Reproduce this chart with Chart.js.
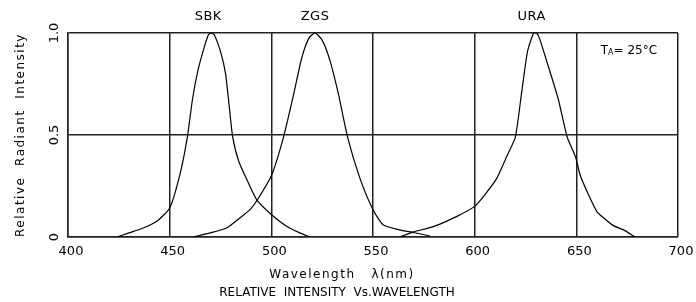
<!DOCTYPE html>
<html>
<head>
<meta charset="utf-8">
<script src="https://cdn.jsdelivr.net/npm/chart.js@4"></script>
<style>
  html, body { margin: 0; padding: 0; background: #fff; }
  #wrap { width: 696px; height: 302px; }
</style>
</head>
<body>
<div id="wrap"><canvas id="myChart" width="696" height="302"></canvas></div>
<script>
// wavelength (nm) / relative intensity
const sbkWl = [424, 430, 437, 444, 450, 455, 458.7, 461.3, 464, 466.7, 469, 470.5, 472, 475, 477.5, 479.5, 481, 484, 488.5, 493, 500, 505, 509, 514, 519];
const sbkVal = [0, 0.02, 0.044, 0.08, 0.142, 0.305, 0.49, 0.68, 0.82, 0.92, 0.99, 1.0, 0.99, 0.91, 0.80, 0.62, 0.49, 0.37, 0.27, 0.18, 0.11, 0.07, 0.044, 0.02, 0];

const zgsWl = [461.5, 470, 478, 485, 489.5, 493, 500, 506, 511, 515, 518.5, 521.5, 525, 529, 533, 537.5, 543.5, 550, 555, 563, 570, 578];
const zgsVal = [0, 0.02, 0.044, 0.097, 0.134, 0.18, 0.30, 0.49, 0.70, 0.88, 0.975, 1.0, 0.965, 0.86, 0.70, 0.49, 0.29, 0.134, 0.06, 0.035, 0.022, 0.005];

const uraWl = [563, 570, 580, 591, 600, 606, 611, 616, 620, 623, 626, 629, 630.5, 632, 635.5, 641, 645.5, 649.5, 652, 656, 660, 663.5, 668, 673, 679];
const uraVal = [0, 0.025, 0.052, 0.10, 0.15, 0.22, 0.29, 0.40, 0.49, 0.70, 0.91, 1.0, 1.0, 0.97, 0.86, 0.68, 0.49, 0.395, 0.30, 0.207, 0.126, 0.093, 0.057, 0.036, 0];

const xTicks = [400, 450, 500, 550, 600, 650, 700];
const yTicks = [0, 0.5, 1.0];
const yTickLabels = ['0', '0.5', '1.0'];
const peakNames = ['SBK', 'ZGS', 'URA'];
const peakWl = [469, 521.5, 628];

const FONT = '"DejaVu Sans", sans-serif';

function pts(wl, val) {
  return wl.map((w, i) => ({ x: w, y: val[i] }));
}

function curve(label, wl, val) {
  return {
    label: label,
    data: pts(wl, val),
    borderColor: '#000',
    borderWidth: 1.2,
    pointRadius: 0,
    fill: false,
    tension: 0.2
  };
}

// all the text is drawn here, placed through the chart scales
const labelsPlugin = {
  id: 'labels',
  afterDraw(chart) {
    const c = chart.ctx;
    const xs = chart.scales.x;
    const ys = chart.scales.y;
    const area = chart.chartArea;
    c.save();
    c.fillStyle = '#000';
    c.textAlign = 'center';
    c.textBaseline = 'middle';

    c.font = '13px ' + FONT;
    xTicks.forEach(t => c.fillText(String(t), xs.getPixelForValue(t) + 3, area.bottom + 15));

    yTicks.forEach((t, i) => {
      c.save();
      c.translate(area.left - 13, ys.getPixelForValue(t));
      c.rotate(-Math.PI / 2);
      c.fillText(yTickLabels[i], 0, 0);
      c.restore();
    });

    c.font = '12px ' + FONT;
    c.letterSpacing = '1.5px';
    c.save();
    c.translate(21, (area.top + area.bottom) / 2);
    c.rotate(-Math.PI / 2);
    c.fillText('Relative  Radiant  Intensity', 0, 0);
    c.restore();

    c.fillText('Wavelength   λ(nm)', 342, area.bottom + 38);
    c.letterSpacing = '0px';
    c.fillText('RELATIVE  INTENSITY  Vs.WAVELENGTH', 337, area.bottom + 56);

    c.font = '13px ' + FONT;
    c.letterSpacing = '0.5px';
    peakNames.forEach((n, i) => c.fillText(n, xs.getPixelForValue(peakWl[i]), area.top - 16));
    c.letterSpacing = '0px';

    // T_A = 25°C
    const tx = xs.getPixelForValue(662);
    const ty = ys.getPixelForValue(0.91);
    c.textAlign = 'left';
    c.font = '12px ' + FONT;
    c.fillText('T', tx, ty);
    const tw = c.measureText('T').width;
    c.font = '8px ' + FONT;
    c.fillText('A', tx + tw, ty + 2);
    const aw = c.measureText('A').width;
    c.font = '12px ' + FONT;
    c.fillText('= 25°C', tx + tw + aw, ty);
    c.restore();
  }
};

const ctx = document.getElementById('myChart').getContext('2d');
const myChart = new Chart(ctx, {
  type: 'line',
  data: {
    datasets: [
      curve('SBK', sbkWl, sbkVal),
      curve('ZGS', zgsWl, zgsVal),
      curve('URA', uraWl, uraVal)
    ]
  },
  options: {
    responsive: false,
    animation: false,
    layout: { padding: { left: 68, right: 18, top: 33, bottom: 65 } },
    plugins: {
      legend: { display: false },
      tooltip: { enabled: false }
    },
    scales: {
      x: {
        type: 'linear',
        min: 400,
        max: 700,
        ticks: { display: false, stepSize: 50 },
        grid: { color: '#222', lineWidth: 1.5, drawTicks: false },
        border: { color: '#222', width: 1.5 }
      },
      y: {
        min: 0,
        max: 1,
        ticks: { display: false, stepSize: 0.5 },
        grid: { color: '#222', lineWidth: 1.5, drawTicks: false },
        border: { color: '#222', width: 1.5 }
      }
    }
  },
  plugins: [labelsPlugin]
});
</script>
</body>
</html>
